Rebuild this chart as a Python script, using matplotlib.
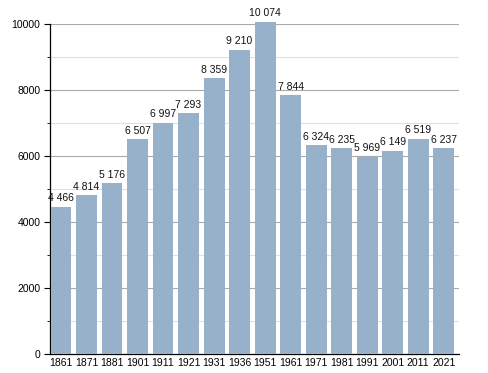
import matplotlib
matplotlib.use("Agg")
import matplotlib.pyplot as plt
from matplotlib.ticker import MultipleLocator

years = ["1861", "1871", "1881", "1901", "1911", "1921", "1931", "1936",
         "1951", "1961", "1971", "1981", "1991", "2001", "2011", "2021"]
population = [4466, 4814, 5176, 6507, 6997, 7293, 8359, 9210,
              10074, 7844, 6324, 6235, 5969, 6149, 6519, 6237]

plt.rcParams['font.family'] = ['Liberation Sans', 'DejaVu Sans']

fig = plt.figure(figsize=(4.88, 3.73), dpi=100)
ax = fig.add_axes([50/488, 19/373, 409/488, 330/373])

x = list(range(len(years)))
bars = ax.bar(x, population, width=0.82, color="#97b1cb", zorder=3)
for b in bars:
    b.set_clip_on(False)
for xi, v in zip(x, population):
    lbl = f"{v:,}".replace(",", " ")
    ax.text(xi, v + 110, lbl, ha="center", va="bottom", fontsize=7.5,
            color="#111111", zorder=4, clip_on=False)

ax.set_xlim(-0.43, 15.6)
ax.set_ylim(0, 10000)
ax.yaxis.set_major_locator(MultipleLocator(2000))
ax.yaxis.set_minor_locator(MultipleLocator(1000))
ax.grid(which="major", axis="y", color="#aaaaaa", linewidth=0.8, zorder=0)
ax.grid(which="minor", axis="y", color="#e0e0e0", linewidth=0.8, zorder=0)
ax.set_xticks(x)
ax.set_xticklabels(years)
ax.tick_params(axis="x", length=0, labelsize=7.5, pad=3)
ax.tick_params(axis="y", which="major", length=4, labelsize=7.5, pad=3, direction="out")
ax.tick_params(axis="y", which="minor", length=2, direction="out")
for s in ["top", "right"]:
    ax.spines[s].set_visible(False)
ax.spines["left"].set_linewidth(0.9)
ax.spines["bottom"].set_linewidth(0.9)

fig.savefig("out.png", dpi=100)
